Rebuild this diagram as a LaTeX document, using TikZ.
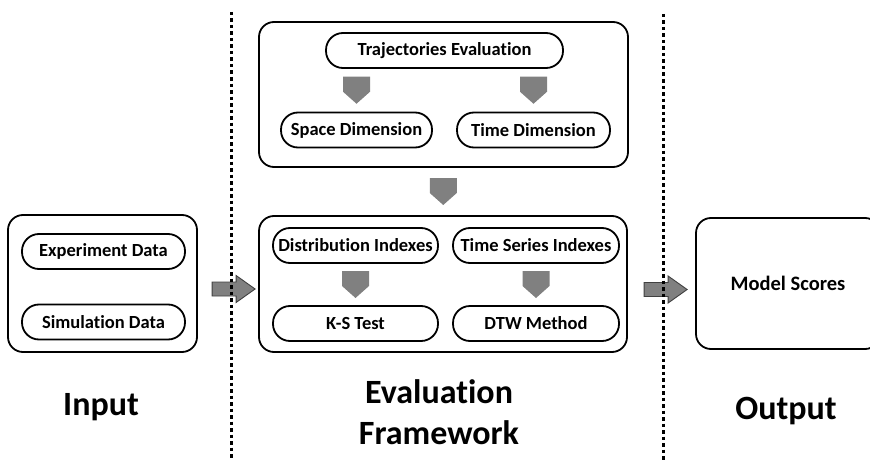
\documentclass[tikz,border=0pt]{standalone}
\usepackage{fontspec}
\setmainfont{Carlito}[Ligatures=NoCommon]
\usetikzlibrary{calc}
\definecolor{arrowgray}{RGB}{128,128,128}
\definecolor{arrowedge}{RGB}{64,64,64}
\begin{document}
\begin{tikzpicture}[x=1pt,y=-1pt,
  frame/.style={draw,line width=1.8pt,rounded corners=15pt,inner sep=0pt,
    minimum width=#1},
  pill/.style={draw,line width=1.8pt,rounded corners=17pt,minimum height=35pt,
    minimum width=#1,inner sep=0pt,font=\fontsize{18.5}{22}\selectfont\bfseries},
  lab/.style={font=\fontsize{34}{41}\selectfont\bfseries,inner sep=0pt},
  sepline/.style={line width=3pt,dash pattern=on 3.5pt off 3pt},
  darrow/.pic={\fill[arrowgray] (-13.5,-13.5) -- (13.5,-13.5) -- (13.5,1.5)
    -- (0,13.5) -- (-13.5,1.5) -- cycle;},
  rarrow/.pic={\filldraw[fill=arrowgray,draw=arrowedge,line width=0.9pt]
    (0,0) -- (-19,-13.5) -- (-19,-7) -- (-43,-7) -- (-43,7) -- (-19,7)
    -- (-19,13.5) -- cycle;}]
\clip (0,0) rectangle (870,460);

% input column
\node[frame=189pt,minimum height=137pt] (inp) at (102.5,283.5) {};
\node[pill=163pt] (exd) at (103.5,251.5) {Experiment Data};
\node[pill=163pt] (sid) at (103.5,322) {Simulation Data};

% trajectories evaluation block
\node[frame=369pt,minimum height=145pt] (traj) at (443.5,94.5) {};
\node[pill=237pt] (te) at (444.5,50.5) {Trajectories Evaluation};
\node[pill=151pt] (spd) at (356.5,130) {Space Dimension};
\node[pill=153pt] (tmd) at (533.5,130) {Time Dimension};

% indexes block
\node[frame=368pt,minimum height=136pt] (idx) at (443,284) {};
\node[pill=165pt] (di) at (355.5,245.5) {Distribution Indexes};
\node[pill=165pt] (ks) at (355.5,323.5) {K-S Test};
\node[pill=166pt] (tsi) at (536,245.5) {Time Series Indexes};
\node[pill=166pt] (dtw) at (536,323.5) {DTW Method};

% output column
\node[frame=184pt,minimum height=131pt,
  font=\fontsize{20.5}{24}\selectfont\bfseries] (out) at (788,283.5) {Model Scores};

% block arrows between the boxes
\pic at ($(spd.north)!0.5!(spd.north |- te.south)$) {darrow};
\pic at ($(tmd.north)!0.5!(tmd.north |- te.south)$) {darrow};
\pic at ($(idx.north)!0.5!(traj.south)$) {darrow};
\pic at ($(ks.north)!0.5!(di.south)$) {darrow};
\pic at ($(dtw.north)!0.5!(tsi.south)$) {darrow};
\pic at ($(idx.west)+(-3,5)$) {rarrow};
\pic at ($(out.west)+(-8,6)$) {rarrow};

% column separators
\draw[sepline] (231,12) -- (231,462);
\draw[sepline] (663,14) -- (663,462);

% column titles
\node[lab,anchor=base] (lin) at (101,415) {Input};
\node[lab,anchor=base,align=center] (lev) at (439,444) {Evaluation\\Framework};
\node[lab,anchor=base] (lout) at (786,419) {Output};
\end{tikzpicture}
\end{document}
